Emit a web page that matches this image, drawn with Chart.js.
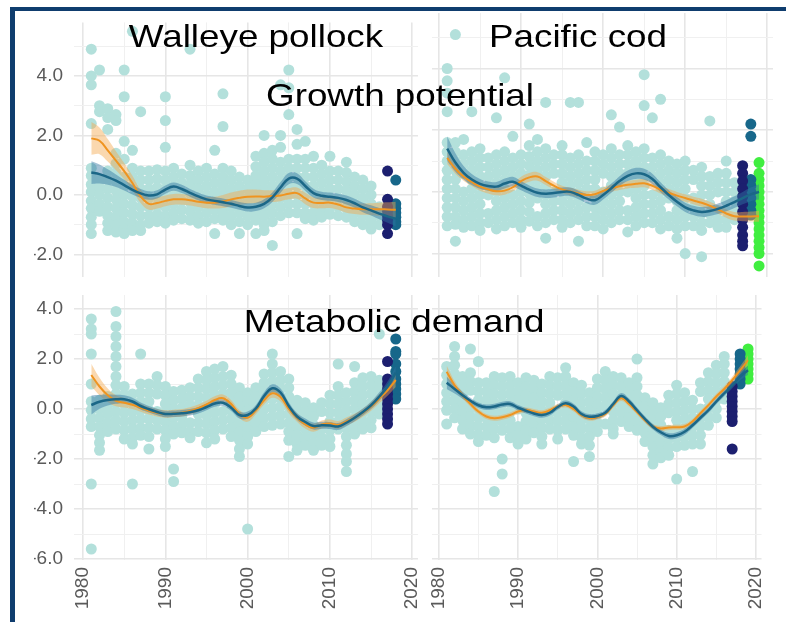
<!DOCTYPE html>
<html>
<head>
<meta charset="utf-8">
<script src="https://cdn.jsdelivr.net/npm/chart.js@4.4.1/dist/chart.umd.min.js"></script>
<style>
  html, body { margin: 0; padding: 0; background: #fff; }
  #stage { position: relative; width: 786px; height: 622px; overflow: hidden; background: #fff; }
  #stage canvas { position: absolute; left: 0; top: 0; }
  .frame { position: absolute; left: 10px; top: 7px; right: -10px; bottom: -10px;
           border-left: 5px solid #0f3d6e; border-top: 4px solid #0f3d6e; }
  .title { position: absolute; font-family: 'Liberation Sans', Arial, sans-serif; font-size: 32px;
           line-height: 32px; color: #000; white-space: nowrap; transform: translateX(-50%) scaleX(1.15); }
</style>
</head>
<body>
<div id="stage">
  <div class="frame"></div>
  <canvas id="pTL" width="786" height="622"></canvas>
  <canvas id="pTR" width="786" height="622"></canvas>
  <canvas id="pBL" width="786" height="622"></canvas>
  <canvas id="pBR" width="786" height="622"></canvas>
  <div class="title" style="left:256px;top:20px">Walleye pollock</div>
  <div class="title" style="left:578px;top:20px">Pacific cod</div>
  <div class="title" style="left:400px;top:79px">Growth potential</div>
  <div class="title" style="left:394px;top:305px">Metabolic demand</div>
</div>
<script>
// survey years of the pale observation columns
const obsYears = [1981, 1982, 1983, 1984, 1985, 1986, 1987, 1988, 1989, 1990,
  1991, 1992, 1993, 1994, 1995, 1996, 1997, 1998, 1999, 2000,
  2001, 2002, 2003, 2004, 2005, 2006, 2007, 2008, 2009, 2010,
  2011, 2012, 2013, 2014, 2015, 2016];
// years of the smoothed curves
const pollockYears = [1981, 1982, 1983, 1984, 1985, 1986, 1987, 1988, 1989, 1990,
  1991, 1992, 1993, 1994, 1995, 1996, 1997, 1998, 1999, 2000,
  2001, 2002, 2003, 2004, 2005, 2006, 2007, 2008, 2009, 2010,
  2011, 2012, 2013, 2014, 2015, 2016, 2017, 2018];
const codYears = pollockYears.concat([2019]);

const xGrid = [1980, 1985, 1990, 1995, 2000, 2005, 2010, 2015, 2020];
const yGridGrowth = [-2, -1, 0, 1, 2, 3, 4, 5];
const yGridMeta = [-6, -5, -4, -3, -2, -1, 0, 1, 2, 3, 4];

// --- Walleye pollock, growth potential
const pollockGrowthObs = [
  [4.9, 4.0, 3.7, 2.4, 0.9, 0.65, 0.35, 0.1, -0.2, -0.45, -0.75, -1.0, -1.3],
  [4.2, 3.0, 2.8, 0.5, 0.25, 0.0, -0.3, -0.55],
  [2.9, 2.6, 2.2, 0.8, 0.5, 0.2, -0.1, -0.4, -0.7, -0.95, -1.2],
  [2.7, 2.5, 1.4, 1.05, 0.75, 0.45, 0.15, -0.15, -0.45, -0.75, -1.0, -1.25],
  [4.2, 3.3, 1.8, 1.2, 0.6, 0.3, 0.0, -0.3, -0.6, -0.9, -1.15, -1.3],
  [5.5, 1.5, 0.9, 0.6, 0.3, -0.05, -0.35, -0.65, -0.95, -1.2],
  [2.8, 0.8, 0.5, 0.2, -0.1, -0.4, -0.7, -1.0, -1.2],
  [0.8, 0.5, 0.2, -0.1, -0.4, -0.7, -0.95],
  [0.85, 0.55, 0.25, -0.05, -0.35, -0.65, -0.9],
  [3.3, 2.5, 1.6, 0.8, 0.5, 0.2, -0.1, -0.4, -0.7, -0.95],
  [0.9, 0.6, 0.3, 0.0, -0.3, -0.6, -0.85],
  [0.7, 0.4, 0.1, -0.2, -0.5, -0.8],
  [4.9, 1.0, 0.65, 0.35, 0.05, -0.25, -0.55, -0.85],
  [0.8, 0.5, 0.2, -0.1, -0.4, -0.7, -0.95],
  [0.9, 0.6, 0.3, 0.0, -0.3, -0.6, -0.9],
  [1.5, 0.7, 0.4, 0.1, -0.2, -0.5, -0.8, -1.3],
  [3.4, 2.3, 0.9, 0.6, 0.3, 0.0, -0.3, -0.6, -0.85],
  [0.8, 0.5, 0.2, -0.1, -0.4, -0.7, -1.0],
  [0.6, 0.3, 0.0, -0.3, -0.6, -0.9, -1.3],
  [0.5, 0.2, -0.1, -0.4, -0.7, -1.0],
  [1.3, 0.95, 0.65, 0.35, 0.05, -0.25, -0.55, -0.85, -1.3],
  [2.0, 1.4, 1.1, 0.8, 0.5, 0.2, -0.1, -0.4, -0.7, -1.0, -1.2],
  [1.5, 1.2, 0.9, 0.6, 0.3, 0.0, -0.3, -0.6, -0.9, -1.7],
  [3.7, 2.0, 1.6, 1.1, 0.8, 0.5, 0.2, -0.1, -0.4, -0.7],
  [4.2, 3.6, 2.7, 1.2, 0.9, 0.6, 0.3, 0.0, -0.3, -0.6],
  [2.2, 1.7, 1.2, 0.9, 0.6, 0.3, 0.0, -0.3, -0.6, -1.3],
  [1.8, 1.2, 0.9, 0.6, 0.3, 0.0, -0.3, -0.6, -0.8],
  [1.3, 0.9, 0.6, 0.3, 0.0, -0.3, -0.6, -0.85],
  [1.0, 0.7, 0.4, 0.1, -0.2, -0.5, -0.75],
  [1.3, 0.8, 0.5, 0.2, -0.1, -0.4, -0.65],
  [0.8, 0.5, 0.2, -0.1, -0.4, -0.7],
  [1.1, 0.75, 0.45, 0.15, -0.15, -0.45, -0.75],
  [0.6, 0.3, 0.0, -0.3, -0.6, -0.9],
  [0.5, 0.2, -0.1, -0.4, -0.7, -1.0],
  [0.3, 0.0, -0.3, -0.6, -0.9, -1.15],
  [-0.4, -0.7, -1.0]
];
const pollockGrowth2017 = [0.8, -0.15, -0.4, -0.55, -0.7, -0.85, -1.0, -1.3];
const pollockGrowth2018 = [0.5, -0.3, -0.45, -0.6, -0.75, -0.9, -1.0];
const pollockGrowthOrange = [1.9, 1.82, 1.5, 1.15, 0.8, 0.4, -0.05, -0.3, -0.27, -0.2,
  -0.15, -0.15, -0.18, -0.23, -0.26, -0.26, -0.22, -0.15, -0.1, -0.06,
  -0.05, -0.06, -0.04, -0.02, 0.04, 0.06, -0.12, -0.26, -0.27, -0.26,
  -0.32, -0.42, -0.46, -0.48, -0.48, -0.48, -0.49, -0.5];
const pollockGrowthOrangeSe = [0.55, 0.45, 0.38, 0.32, 0.27, 0.24, 0.22, 0.2, 0.19, 0.18,
  0.18, 0.18, 0.18, 0.18, 0.19, 0.2, 0.22, 0.23, 0.24, 0.24,
  0.23, 0.22, 0.2, 0.19, 0.19, 0.19, 0.19, 0.18, 0.18, 0.18,
  0.18, 0.18, 0.18, 0.19, 0.2, 0.22, 0.24, 0.27];
const pollockGrowthTeal = [0.75, 0.7, 0.6, 0.48, 0.33, 0.17, 0.05, -0.02, 0.02, 0.18,
  0.28, 0.2, 0.07, -0.05, -0.15, -0.2, -0.25, -0.3, -0.37, -0.42,
  -0.4, -0.3, -0.08, 0.25, 0.55, 0.55, 0.3, 0.06, -0.03, -0.06,
  -0.1, -0.17, -0.28, -0.42, -0.52, -0.63, -0.72, -0.8];
const pollockGrowthTealSe = [0.38, 0.32, 0.26, 0.21, 0.18, 0.16, 0.15, 0.14, 0.14, 0.14,
  0.14, 0.14, 0.13, 0.13, 0.13, 0.13, 0.13, 0.13, 0.13, 0.14,
  0.14, 0.15, 0.16, 0.18, 0.19, 0.18, 0.16, 0.15, 0.14, 0.14,
  0.14, 0.15, 0.15, 0.16, 0.17, 0.19, 0.22, 0.26];

// --- Pacific cod, growth potential
const codGrowthObs = [
  [4.0, 3.6, 3.2, 2.6, 1.6, 1.3, 1.0, 0.7, 0.4, 0.1, -0.2, -0.5, -0.8, -1.1],
  [5.1, 1.6, 1.3, 1.0, 0.7, 0.4, 0.1, -0.2, -0.5, -0.8, -1.05, -1.6],
  [1.7, 1.2, 0.9, 0.6, 0.0, -0.3, -0.6, -0.9, -1.15],
  [2.6, 1.3, 1.0, 0.7, 0.4, 0.1, -0.2, -0.5, -0.8, -1.1],
  [1.4, 1.1, 0.8, 0.5, 0.2, -0.1, -0.4, -0.7, -1.0, -1.25],
  [1.1, 0.8, 0.5, 0.2, -0.1, -0.7, -1.0],
  [2.4, 1.2, 0.9, 0.6, 0.3, 0.0, -0.3, -0.6, -0.9, -1.2],
  [3.7, 1.3, 1.0, 0.7, 0.4, 0.1, -0.2, -0.5, -0.8, -1.1],
  [1.8, 1.1, 0.8, 0.5, -0.1, -0.4, -0.7, -1.0],
  [1.2, 0.9, 0.6, 0.3, 0.0, -0.3, -0.6, -0.9, -1.15],
  [2.2, 1.5, 1.15, 0.85, 0.55, 0.25, -0.05, -0.35, -0.65, -0.95],
  [1.7, 1.3, 1.0, 0.7, 0.4, 0.1, -0.2, -0.8, -1.1],
  [2.9, 1.4, 1.1, 0.8, 0.5, 0.2, -0.1, -0.4, -0.7, -1.0, -1.5],
  [1.2, 0.9, 0.6, 0.0, -0.3, -0.6, -0.9],
  [1.5, 1.2, 0.9, 0.6, 0.3, 0.0, -0.3, -0.6, -0.9, -1.15],
  [2.9, 1.1, 0.8, 0.5, 0.2, -0.1, -0.4, -0.7, -1.0],
  [2.9, 1.2, 0.9, 0.6, 0.3, 0.0, -0.3, -0.6, -0.9, -1.6],
  [1.6, 1.0, 0.7, 0.4, 0.1, -0.5, -0.8, -1.1],
  [1.3, 1.0, 0.7, 0.4, 0.1, -0.2, -0.5, -0.8, -1.1],
  [1.2, 0.9, 0.6, 0.0, -0.3, -0.6, -0.9, -1.2],
  [2.5, 1.4, 1.1, 0.8, 0.5, 0.2, -0.1, -0.4, -0.7, -1.0],
  [2.1, 1.2, 0.9, 0.6, 0.3, 0.0, -0.3, -0.6, -0.9],
  [1.5, 1.2, 0.9, 0.6, 0.3, 0.0, -0.6, -0.9, -1.3],
  [1.3, 1.0, 0.7, 0.4, 0.1, -0.2, -0.5, -0.8, -1.1],
  [3.8, 2.8, 1.4, 1.1, 0.8, 0.5, 0.2, -0.1, -0.4, -0.7, -1.0],
  [2.4, 1.1, 0.8, 0.5, -0.1, -0.4, -0.7, -1.0],
  [3.0, 1.2, 0.9, 0.6, 0.3, 0.0, -0.3, -0.6, -0.9, -1.2],
  [1.0, 0.7, 0.4, 0.1, -0.2, -0.8, -1.1],
  [0.9, 0.6, 0.3, 0.0, -0.3, -0.6, -0.9, -1.2, -1.5],
  [1.0, 0.7, 0.4, 0.1, -0.2, -0.5, -0.8, -1.1, -2.0],
  [0.7, 0.4, -0.2, -0.5, -0.8, -1.1],
  [0.8, 0.5, 0.2, -0.1, -0.4, -0.7, -1.0, -1.25, -2.1],
  [2.3, 0.5, 0.2, -0.1, -0.4, -0.7, -1.0],
  [0.6, 0.3, 0.0, -0.6, -0.9, -1.15],
  [1.0, 0.6, 0.3, 0.0, -0.3, -0.6, -0.9, -1.15],
  [0.3, 0.0, -0.3, -0.6, -0.9]
];
const codGrowth2017 = [0.85, 0.6, 0.35, 0.1, -0.15, -0.4, -0.65, -0.9, -1.15, -1.4, -1.6, -1.75];
const codGrowth2018 = [2.2, 1.8, 0.4, 0.2, 0.0, -0.2, -0.4, -0.6, -0.75];
const codGrowth2019 = [0.95, 0.6, 0.4, 0.2, 0.0, -0.2, -0.4, -0.6, -0.8, -1.0, -1.2, -1.4, -1.6, -1.8, -2.0, -2.4];
const codGrowthOrange = [1.1, 0.75, 0.5, 0.32, 0.17, 0.08, 0.02, 0.04, 0.15, 0.35,
  0.47, 0.5, 0.35, 0.2, 0.08, 0.01, -0.05, -0.1, -0.08, 0.03,
  0.12, 0.18, 0.23, 0.26, 0.28, 0.2, 0.07, -0.03, -0.12, -0.2,
  -0.28, -0.35, -0.45, -0.57, -0.7, -0.79, -0.8, -0.8, -0.79];
const codGrowthOrangeSe = [0.2, 0.16, 0.14, 0.13, 0.13, 0.13, 0.13, 0.13, 0.13, 0.14,
  0.14, 0.14, 0.13, 0.13, 0.12, 0.12, 0.12, 0.12, 0.12, 0.12,
  0.12, 0.12, 0.12, 0.13, 0.13, 0.13, 0.12, 0.12, 0.12, 0.12,
  0.12, 0.13, 0.13, 0.13, 0.14, 0.14, 0.15, 0.16, 0.18];
const codGrowthTeal = [1.4, 0.95, 0.62, 0.4, 0.26, 0.19, 0.17, 0.27, 0.33, 0.2,
  0.07, -0.03, -0.06, -0.04, 0.0, 0.0, -0.1, -0.22, -0.27, -0.1,
  0.12, 0.35, 0.52, 0.6, 0.57, 0.42, 0.15, -0.1, -0.32, -0.5,
  -0.6, -0.65, -0.62, -0.55, -0.45, -0.33, -0.2, -0.08, 0.0];
const codGrowthTealSe = [0.4, 0.3, 0.22, 0.18, 0.16, 0.15, 0.15, 0.16, 0.16, 0.15,
  0.14, 0.14, 0.14, 0.14, 0.14, 0.14, 0.14, 0.15, 0.15, 0.15,
  0.15, 0.16, 0.17, 0.18, 0.18, 0.17, 0.16, 0.15, 0.15, 0.15,
  0.15, 0.16, 0.16, 0.17, 0.18, 0.19, 0.2, 0.22, 0.25];

// --- Walleye pollock, metabolic demand
const pollockMetaObs = [
  [3.6, 3.2, 3.0, 2.2, 1.0, 0.3, -0.05, -0.4, -0.7, -3.0, -5.6],
  [0.35, 0.0, -0.35, -0.7, -1.05, -1.35, -1.65],
  [0.5, 0.15, -0.2, -0.55, -0.9],
  [3.9, 3.3, 2.9, 2.5, 2.1, 1.7, 1.3, 0.95, 0.6, 0.25, -0.1, -0.45, -0.8],
  [0.9, 0.55, 0.2, -0.15, -0.5, -0.85, -1.2],
  [0.6, 0.25, -0.1, -0.45, -0.8, -1.15, -1.4, -3.0],
  [2.2, 1.0, 0.65, 0.3, -0.05, -0.4, -0.75, -1.05],
  [1.0, 0.65, 0.3, -0.05, -0.4, -0.75, -1.1, -1.6],
  [1.3, 0.95, 0.6, -0.1, -0.45, -0.8],
  [0.9, 0.55, 0.2, -0.15, -0.5, -0.85, -1.2, -1.5],
  [0.7, 0.35, 0.0, -0.35, -0.7, -1.0, -2.4, -2.9],
  [0.75, 0.4, 0.05, -0.3, -0.65, -0.95],
  [0.85, 0.5, 0.15, -0.55, -0.9, -1.15],
  [1.2, 0.85, 0.5, 0.15, -0.2, -0.55, -0.9],
  [1.5, 1.15, 0.8, 0.45, 0.1, -0.25, -0.6, -0.95, -1.35],
  [1.6, 1.25, 0.9, 0.55, 0.2, -0.15, -0.5, -0.85, -1.2],
  [1.7, 1.3, 0.95, 0.6, -0.1, -0.45, -0.8],
  [1.35, 1.0, 0.65, 0.3, -0.05, -0.4, -0.75, -1.1],
  [0.85, 0.5, 0.15, -0.2, -0.55, -0.9, -1.25, -1.6, -1.9],
  [0.65, 0.3, -0.05, -0.4, -0.75, -1.1, -1.4, -4.8],
  [0.85, 0.5, 0.15, -0.2, -0.55, -0.9],
  [1.4, 1.05, 0.7, 0.35, 0.0, -0.35, -0.7],
  [2.2, 1.8, 1.45, 1.1, 0.75, 0.4, 0.05, -0.3, -0.65],
  [1.5, 1.15, 0.8, 0.45, 0.1, -0.25, -0.6],
  [1.2, 0.85, 0.5, 0.15, -0.2, -0.55, -0.9, -1.25, -1.9],
  [0.35, 0.0, -0.35, -0.7, -1.05, -1.4, -1.65],
  [0.25, -0.1, -0.45, -0.8, -1.15, -1.45],
  [0.05, -0.3, -0.65, -1.0, -1.35, -1.65],
  [0.25, -0.1, -0.8, -1.15, -1.45],
  [0.55, 0.2, -0.15, -0.5, -0.85, -1.2, -1.5],
  [1.8, 0.9, 0.55, 0.2, -0.15, -0.5, -0.8],
  [0.65, 0.3, -0.05, -0.4, -0.75, -1.1, -1.45, -1.8, -2.1, -2.5],
  [1.7, 1.05, 0.7, 0.35, 0.0, -0.35, -0.7, -1.0],
  [1.25, 0.9, 0.55, 0.2, -0.15, -0.5, -0.8],
  [1.3, 0.95, 0.6, 0.25, -0.1, -0.45, -0.75],
  [3.0, 1.15, 0.8, 0.45, 0.1, -0.2]
];
const pollockMeta2017 = [1.9, 1.2, 1.0, 0.8, 0.6, 0.4, 0.2, 0.0, -0.2, -0.4, -0.6];
const pollockMeta2018 = [2.8, 2.3, 2.2, 1.8, 1.5, 1.2, 1.0, 0.8, 0.6, 0.4];
const pollockMetaOrange = [1.36, 0.9, 0.55, 0.33, 0.25, 0.17, 0.05, -0.07, -0.15, -0.2,
  -0.18, -0.15, -0.08, 0.03, 0.18, 0.36, 0.43, 0.2, -0.2, -0.35,
  -0.05, 0.35, 0.63, 0.48, 0.0, -0.35, -0.62, -0.75, -0.62, -0.58,
  -0.64, -0.5, -0.35, -0.15, 0.1, 0.42, 0.75, 1.16];
const pollockMetaOrangeSe = [0.45, 0.35, 0.27, 0.22, 0.19, 0.17, 0.16, 0.15, 0.15, 0.15,
  0.15, 0.15, 0.15, 0.15, 0.15, 0.15, 0.15, 0.15, 0.16, 0.16,
  0.16, 0.17, 0.18, 0.18, 0.17, 0.16, 0.16, 0.16, 0.16, 0.16,
  0.16, 0.16, 0.16, 0.16, 0.17, 0.19, 0.22, 0.28];
const pollockMetaTeal = [0.16, 0.29, 0.36, 0.39, 0.39, 0.3, 0.12, -0.01, -0.12, -0.2,
  -0.19, -0.17, -0.13, -0.05, 0.08, 0.22, 0.25, 0.05, -0.24, -0.24,
  0.02, 0.52, 0.83, 0.66, 0.12, -0.3, -0.52, -0.68, -0.65, -0.66,
  -0.7, -0.55, -0.35, -0.12, 0.15, 0.5, 0.9, 1.45];
const pollockMetaTealSe = [0.38, 0.28, 0.22, 0.18, 0.16, 0.15, 0.14, 0.13, 0.13, 0.13,
  0.13, 0.13, 0.13, 0.13, 0.13, 0.13, 0.13, 0.13, 0.14, 0.14,
  0.14, 0.15, 0.16, 0.16, 0.15, 0.14, 0.14, 0.14, 0.14, 0.14,
  0.14, 0.14, 0.14, 0.14, 0.15, 0.17, 0.2, 0.26];

// --- Pacific cod, metabolic demand
const codMetaObs = [
  [1.7, 1.35, 1.0, 0.65, 0.3, -0.05, -0.6],
  [2.5, 2.1, 1.75, 1.4, 1.05, 0.7, 0.35, 0.0, -0.35],
  [1.3, 0.95, 0.6, 0.25, -0.1, -0.45, -0.8],
  [2.4, 1.45, 1.1, 0.75, 0.05, -0.3, -0.65, -1.0],
  [1.9, 1.05, 0.7, 0.35, 0.0, -0.35, -0.7, -1.05, -1.3],
  [1.05, 0.7, 0.35, 0.0, -0.35, -0.7, -1.05],
  [1.3, 0.95, 0.6, 0.25, -0.1, -0.45, -0.8, -1.15, -3.3],
  [1.25, 0.9, 0.55, 0.2, -0.15, -0.5, -0.85, -2.0, -2.6],
  [1.3, 0.95, 0.6, 0.25, -0.1, -0.45, -0.8, -1.15],
  [1.05, 0.7, 0.35, 0.0, -0.7, -1.05, -1.4],
  [1.25, 0.9, 0.55, 0.2, -0.15, -0.5, -0.85, -1.2],
  [1.15, 0.8, 0.45, 0.1, -0.25, -0.6, -0.95],
  [1.0, 0.65, 0.3, -0.05, -0.4, -0.75, -1.1, -1.4],
  [1.3, 0.95, 0.6, 0.25, -0.1, -0.45, -0.8],
  [1.25, 0.9, 0.55, -0.15, -0.5, -0.85, -1.2],
  [1.65, 1.3, 0.95, 0.6, 0.25, -0.1, -0.45, -0.8],
  [1.05, 0.7, 0.35, 0.0, -0.35, -0.7, -1.05, -2.1],
  [0.95, 0.6, 0.25, -0.1, -0.45, -0.8, -1.15, -1.4],
  [0.65, 0.3, -0.05, -0.4, -0.75, -1.1, -1.45, -1.9],
  [1.2, 0.85, 0.5, 0.15, -0.2, -0.55, -0.9],
  [1.5, 1.15, 0.8, 0.45, 0.1, -0.6],
  [1.3, 0.95, 0.6, 0.25, -0.1, -0.45, -0.8, -1.0],
  [1.25, 0.9, 0.55, 0.2, -0.15, -0.5],
  [1.05, 0.7, 0.35, 0.0, -0.35, -0.7],
  [2.0, 1.25, 0.9, 0.55, 0.2, -0.15, -0.5, -0.85],
  [0.45, 0.1, -0.25, -0.6, -0.95, -1.3],
  [0.25, -0.1, -0.45, -0.8, -1.15, -1.5, -1.85, -2.2],
  [0.05, -0.3, -0.65, -1.0, -1.35, -1.7, -1.95],
  [0.55, 0.2, -0.15, -0.85, -1.2, -1.55, -1.85],
  [0.95, 0.6, 0.25, -0.1, -0.45, -0.8, -1.15, -1.5, -2.8],
  [0.65, 0.3, -0.05, -0.4, -0.75, -1.1, -1.45],
  [0.35, 0.0, -0.35, -0.7, -1.05, -1.4, -2.5],
  [1.05, 0.7, 0.0, -0.35, -0.7, -1.05, -1.4],
  [1.45, 1.1, 0.75, 0.4, 0.05, -0.3, -0.65],
  [1.75, 1.4, 1.05, 0.7, 0.35, 0.0, -0.35],
  [2.1, 1.8, 1.45, 1.1, 0.75, 0.4]
];
const codMeta2017 = [0.9, 0.7, 0.5, 0.3, 0.1, -0.1, -0.3, -0.5, -1.6];
const codMeta2018 = [2.2, 2.0, 1.8, 1.6, 1.4, 1.2, 1.0];
const codMeta2019 = [2.4, 2.2, 2.0, 1.8, 1.6, 1.4, 1.2];
const codMetaOrange = [1.49, 0.95, 0.55, 0.2, -0.1, -0.3, -0.37, -0.33, -0.24, -0.1,
  -0.04, -0.1, -0.15, -0.05, 0.1, 0.16, 0.0, -0.25, -0.37, -0.32,
  -0.2, 0.15, 0.43, 0.2, -0.12, -0.45, -0.71, -0.78, -0.74, -0.73,
  -0.7, -0.5, -0.17, 0.15, 0.5, 0.8, 1.15, 1.55, 1.95];
const codMetaOrangeSe = [0.25, 0.17, 0.13, 0.11, 0.1, 0.1, 0.1, 0.1, 0.1, 0.1,
  0.1, 0.1, 0.1, 0.1, 0.1, 0.1, 0.1, 0.1, 0.1, 0.1,
  0.1, 0.1, 0.11, 0.11, 0.1, 0.1, 0.1, 0.1, 0.1, 0.1,
  0.1, 0.1, 0.1, 0.1, 0.11, 0.12, 0.14, 0.16, 0.2];
const codMetaTeal = [1.05, 0.8, 0.55, 0.33, 0.15, 0.07, 0.1, 0.18, 0.2, 0.05,
  -0.07, -0.18, -0.24, -0.15, 0.08, 0.23, 0.1, -0.2, -0.31, -0.28,
  -0.15, 0.2, 0.52, 0.3, -0.05, -0.4, -0.71, -0.93, -1.08, -1.05,
  -0.91, -0.65, -0.35, -0.05, 0.3, 0.63, 0.95, 1.3, 1.55];
const codMetaTealSe = [0.25, 0.18, 0.14, 0.12, 0.11, 0.11, 0.11, 0.11, 0.11, 0.11,
  0.11, 0.11, 0.11, 0.11, 0.11, 0.11, 0.11, 0.11, 0.11, 0.11,
  0.11, 0.11, 0.12, 0.12, 0.11, 0.11, 0.11, 0.11, 0.12, 0.12,
  0.12, 0.11, 0.11, 0.11, 0.11, 0.12, 0.13, 0.15, 0.18];

const PALE = '#b3e0db';
const NAVY = '#1c1f6f';
const DARK_TEAL = '#17678a';
const GREEN = '#40ee40';
const ORANGE = '#ef9420';
const ORANGE_BAND = 'rgba(244, 168, 78, 0.45)';
const TEAL = '#1b6787';
const TEAL_BAND = 'rgba(48, 118, 162, 0.45)';
const TICK_FONT = { family: "'Liberation Sans', Arial, sans-serif", size: 19 };

function toPoints(years, vals) {
    return years.map((yr, i) => ({ x: yr, y: vals[i] }));
}

function toBand(years, vals, se, sign) {
    return years.map((yr, i) => ({ x: yr, y: vals[i] + sign * se[i] }));
}

function toObs(years, rows) {
    const pts = [];
    years.forEach((yr, i) => rows[i].forEach((v) => pts.push({ x: yr, y: v })));
    return pts;
}

function makePanel(p) {
    const dots = p.dots.map((d) => ({
        data: d.vals.map((v) => ({ x: d.year, y: v })),
        pointRadius: 5.5,
        pointBackgroundColor: d.color,
        pointBorderWidth: 0,
        order: 40,
    }));

    const curve = (vals, color, width, order) => ({
        data: toPoints(p.years, vals),
        showLine: true,
        borderColor: color,
        borderWidth: width,
        pointRadius: 0,
        tension: 0.4,
        fill: false,
        order: order,
    });
    const bandEdge = (vals, se, sign, color, order) => ({
        data: toBand(p.years, vals, se, sign),
        showLine: true,
        borderWidth: 0,
        borderColor: 'rgba(0,0,0,0)',
        backgroundColor: color,
        pointRadius: 0,
        tension: 0.4,
        fill: sign < 0 ? '-1' : false,
        order: order,
    });

    const datasets = [
        { data: toObs(obsYears, p.obs), pointRadius: 5.5, pointBackgroundColor: PALE, pointBorderWidth: 0, order: 50 },
        ...dots,
        bandEdge(p.orange, p.orangeSe, 1, ORANGE_BAND, 30),
        bandEdge(p.orange, p.orangeSe, -1, ORANGE_BAND, 30),
        bandEdge(p.teal, p.tealSe, 1, TEAL_BAND, 25),
        bandEdge(p.teal, p.tealSe, -1, TEAL_BAND, 25),
        curve(p.orange, ORANGE, 2, 20),
        curve(p.teal, TEAL, 2.5, 10),
    ];

    const gridColor = (ctx) => (ctx.tick && ctx.tick.value % 2 === 0 ? '#e6e6e6' : '#f0f0f0');
    const gridWidth = (ctx) => (ctx.tick && ctx.tick.value % 2 === 0 ? 1.6 : 1);
    const xGridColor = (ctx) => (ctx.tick && ctx.tick.value % 10 === 0 ? '#e6e6e6' : '#f0f0f0');
    const xGridWidth = (ctx) => (ctx.tick && ctx.tick.value % 10 === 0 ? 1.6 : 1);
    const [left, top, right, bottom] = p.rect;
    const yW = 40;
    const xH = p.showX ? 60 : 0;

    new Chart(document.getElementById(p.id), {
        type: 'scatter',
        data: { datasets },
        options: {
            responsive: false,
            animation: false,
            events: [],
            layout: { padding: { left: left - yW, top: top, right: 786 - right, bottom: 622 - bottom - xH } },
            plugins: { legend: { display: false }, tooltip: { enabled: false } },
            scales: {
                x: {
                    type: 'linear',
                    min: p.xMin,
                    max: p.xMax,
                    afterBuildTicks: (s) => { s.ticks = xGrid.map((v) => ({ value: v })); },
                    afterFit: (s) => { s.height = xH; },
                    border: { display: false },
                    grid: { color: xGridColor, lineWidth: xGridWidth, drawTicks: false },
                    ticks: {
                        display: p.showX,
                        autoSkip: false,
                        minRotation: 90,
                        maxRotation: 90,
                        padding: 7,
                        color: '#5a5a5a',
                        font: TICK_FONT,
                        callback: (v) => (v % 10 === 0 ? String(v) : ''),
                    },
                },
                y: {
                    min: p.yMin,
                    max: p.yMax,
                    afterBuildTicks: (s) => { s.ticks = p.yGrid.map((v) => ({ value: v })); },
                    afterFit: (s) => { s.width = yW; },
                    border: { display: false },
                    grid: { color: gridColor, lineWidth: gridWidth, drawTicks: false },
                    ticks: {
                        display: p.showY,
                        padding: 11,
                        color: '#5a5a5a',
                        font: TICK_FONT,
                        callback: (v) => (v % 2 === 0 ? v.toFixed(1) : ''),
                    },
                },
            },
        },
    });
}

const panels = [
    {
        id: 'pTL', rect: [74, 13, 418, 277], xMin: 1978.9, xMax: 2020.7, yMin: -2.76, yMax: 5.8,
        yGrid: yGridGrowth, showY: true, showX: false, years: pollockYears, obs: pollockGrowthObs,
        orange: pollockGrowthOrange, orangeSe: pollockGrowthOrangeSe, teal: pollockGrowthTeal, tealSe: pollockGrowthTealSe,
        dots: [{ year: 2017, vals: pollockGrowth2017, color: NAVY }, { year: 2018, vals: pollockGrowth2018, color: DARK_TEAL }],
    },
    {
        id: 'pTR', rect: [432, 13, 773, 277], xMin: 1979.15, xMax: 2020.7, yMin: -2.76, yMax: 5.8,
        yGrid: yGridGrowth, showY: false, showX: false, years: codYears, obs: codGrowthObs,
        orange: codGrowthOrange, orangeSe: codGrowthOrangeSe, teal: codGrowthTeal, tealSe: codGrowthTealSe,
        dots: [{ year: 2017, vals: codGrowth2017, color: NAVY }, { year: 2018, vals: codGrowth2018, color: DARK_TEAL },
               { year: 2019, vals: codGrowth2019, color: GREEN }],
    },
    {
        id: 'pBL', rect: [74, 295, 418, 560], xMin: 1978.9, xMax: 2020.7, yMin: -6.04, yMax: 4.56,
        yGrid: yGridMeta, showY: true, showX: true, years: pollockYears, obs: pollockMetaObs,
        orange: pollockMetaOrange, orangeSe: pollockMetaOrangeSe, teal: pollockMetaTeal, tealSe: pollockMetaTealSe,
        dots: [{ year: 2017, vals: pollockMeta2017, color: NAVY }, { year: 2018, vals: pollockMeta2018, color: DARK_TEAL }],
    },
    {
        id: 'pBR', rect: [432, 295, 773, 560], xMin: 1979.15, xMax: 2020.7, yMin: -6.04, yMax: 4.56,
        yGrid: yGridMeta, showY: false, showX: true, years: codYears, obs: codMetaObs,
        orange: codMetaOrange, orangeSe: codMetaOrangeSe, teal: codMetaTeal, tealSe: codMetaTealSe,
        dots: [{ year: 2017, vals: codMeta2017, color: NAVY }, { year: 2018, vals: codMeta2018, color: DARK_TEAL },
               { year: 2019, vals: codMeta2019, color: GREEN }],
    },
];

panels.forEach(makePanel);
</script>
</body>
</html>
